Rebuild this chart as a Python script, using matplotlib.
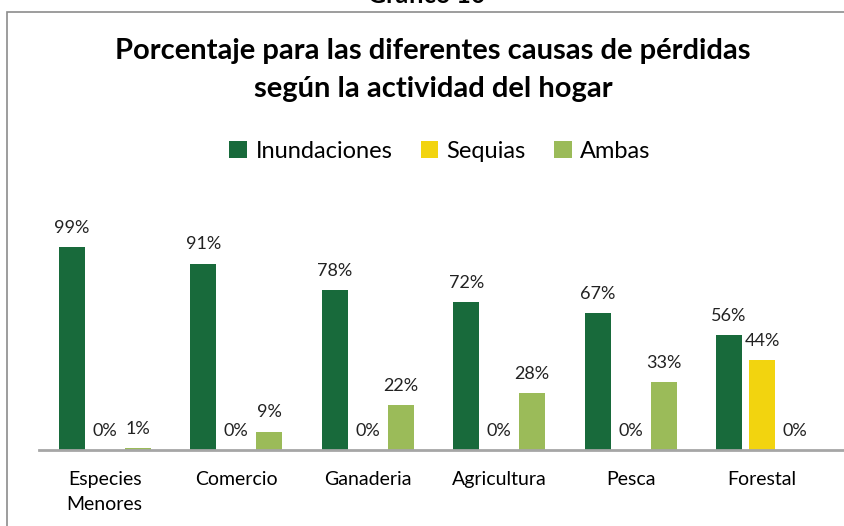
import numpy as np
import matplotlib
matplotlib.use('Agg')
import matplotlib.pyplot as plt
from matplotlib.patches import Rectangle

plt.rcParams['font.family'] = ['Lato', 'DejaVu Sans']

# data (percent)
categorias = ['Especies\nMenores', 'Comercio', 'Ganaderia', 'Agricultura', 'Pesca', 'Forestal']
inundaciones = [99, 91, 78, 72, 67, 56]
sequias = [0, 0, 0, 0, 0, 44]
ambas = [1, 9, 22, 28, 33, 0]

series = ['Inundaciones', 'Sequias', 'Ambas']
colores = ['#186A3B', '#F2D40F', '#9BBB59']

fig = plt.figure(figsize=(8.45, 5.26), dpi=100)

# outer frame of the chart box (right and bottom edges fall outside the image)
fig.patches.append(Rectangle((7 / 845, -0.1), 1.2, 1.1 - 12 / 526, transform=fig.transFigure,
                             fill=False, edgecolor='#8C8C8C', linewidth=1.2))

# caption above the box, cut off by the top edge as in the original
fig.text(427 / 845, 1 - 7 / 526, 'Gráfico 10', ha='center', va='bottom',
         fontsize=18, fontweight='bold')

fig.text(433 / 845, 1 - 51 / 526, 'Porcentaje para las diferentes causas de pérdidas',
         ha='center', va='center', fontsize=21, fontweight='bold')
fig.text(433 / 845, 1 - 89 / 526, 'según la actividad del hogar',
         ha='center', va='center', fontsize=21, fontweight='bold')

ax = fig.add_axes([39 / 845, 76 / 526, (845 - 39) / 845, 250 / 526])

x = np.arange(len(categorias))
offsets = [-0.251, 0, 0.251]
ancho = 0.198
datos = [inundaciones, sequias, ambas]

handles = []
for k in range(3):
    bars = ax.bar(x + offsets[k], datos[k], ancho, color=colores[k], label=series[k], zorder=2)
    handles.append(bars)
    for xi, v in zip(x + offsets[k], datos[k]):
        ax.annotate('%d%%' % v, (xi, v), xytext=(0, 8), textcoords='offset points',
                    ha='center', va='bottom', fontsize=13, color='#222222')

ax.set_xlim(-0.5, 5.63)
ax.set_ylim(0, 122)
ax.set_xticks(x)
ax.set_xticklabels(categorias, fontsize=14, linespacing=1.6)
ax.tick_params(axis='x', length=0, pad=15)
ax.set_yticks([])
for s in ['top', 'right', 'left']:
    ax.spines[s].set_visible(False)
ax.spines['bottom'].set_color('#A6A6A6')
ax.spines['bottom'].set_linewidth(2)

fig.legend(handles, series, loc='center', bbox_to_anchor=(440 / 845, 1 - 151 / 526), ncol=3,
           frameon=False, fontsize=17, handlelength=0.75, handleheight=0.75,
           handletextpad=0.35, columnspacing=1.2)

fig.savefig('out.png', dpi=100)
